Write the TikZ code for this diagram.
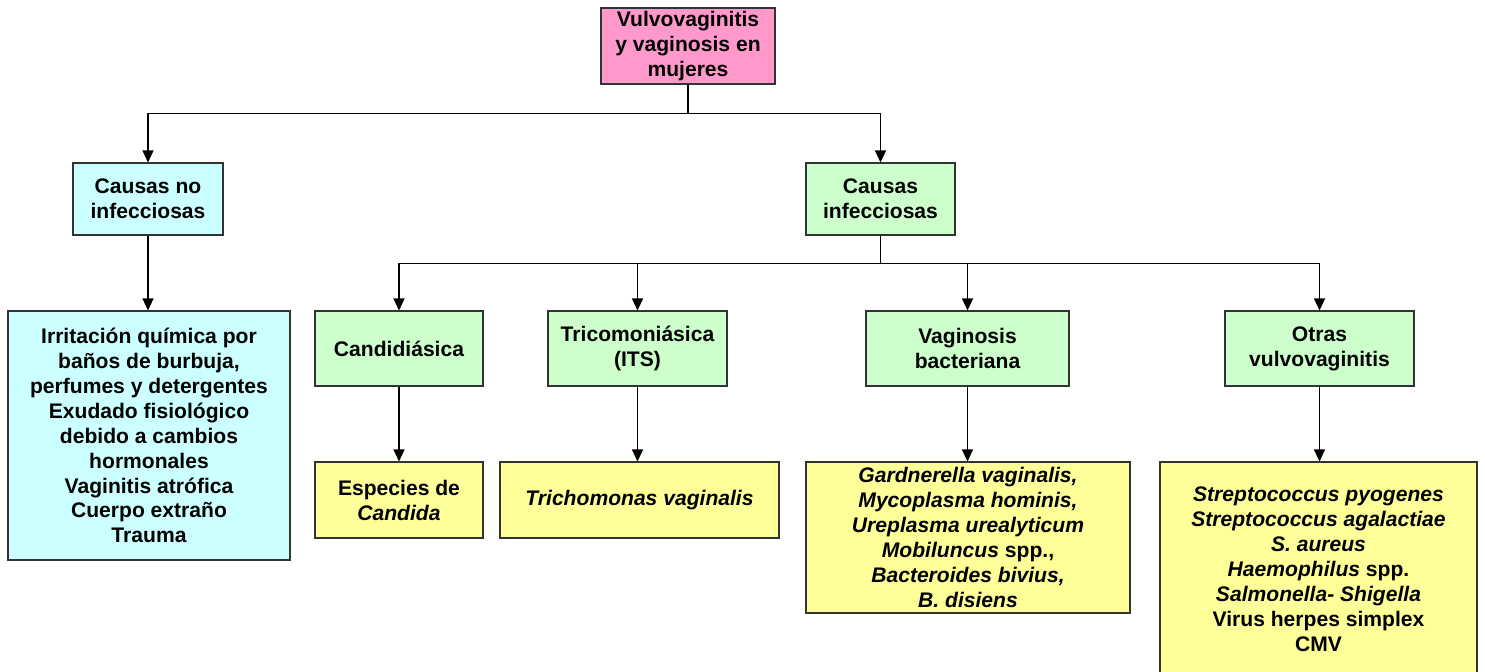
\documentclass[tikz,border=0pt]{standalone}
\usepackage{fontspec}
\setmainfont{Liberation Sans}
\usetikzlibrary{arrows.meta,positioning}
\definecolor{rosa}{HTML}{FF99CC}
\definecolor{celeste}{HTML}{CCFFFF}
\definecolor{verde}{HTML}{CCFFCC}
\definecolor{amarillo}{HTML}{FFFF99}
\begin{document}
\begin{tikzpicture}[>={Triangle[length=.24cm,width=.22cm]},line width=.6pt,
 b/.style={draw=black!80,align=center,inner sep=1pt,font=\fontsize{12}{14.2}\selectfont\bfseries},
 v/.style={b,fill=verde,minimum height=1.5cm},
 a/.style={b,fill=amarillo}]
\useasboundingbox (0,0) rectangle (29.7,-13.42);
\node[b,fill=rosa,minimum width=3.48cm,minimum height=1.52cm] (w) at (13.76,-.92) {Vulvovaginitis\\y vaginosis en\\mujeres};
\node[b,fill=celeste,minimum width=3cm,minimum height=1.44cm] (ni) at (2.96,-3.98) {Causas no\\infecciosas};
\node[v,minimum width=2.98cm,minimum height=1.44cm] (in) at (17.61,-3.98) {Causas\\infecciosas};
\draw[->] (w.south)--++(0,-.58)-|(ni.north);\draw[->] (w.south)--++(0,-.58)-|(in.north);
\node[b,fill=celeste,minimum width=5.64cm,minimum height=4.98cm] (nl) at (2.98,-8.71) {Irritación química por\\baños de burbuja,\\perfumes y detergentes\\Exudado fisiológico\\debido a cambios\\hormonales\\Vaginitis atrófica\\Cuerpo extraño\\Trauma};
\draw[->] (ni)--(ni|-nl.north);
\node[v,minimum width=3.36cm] (ca) at (7.98,-6.97) {Candidiásica};
\node[v,minimum width=3.58cm] (tr) at (12.75,-6.97) {Tricomoniásica\\(ITS)};
\node[v,minimum width=4.06cm] (vb) at (19.35,-6.97) {Vaginosis\\bacteriana};
\node[v,minimum width=3.78cm] (ot) at (26.39,-6.97) {Otras\\vulvovaginitis};
\foreach \n in {ca,tr,vb,ot} \draw[->] (in.south)--++(0,-.56)-|(\n.north);
\node[a,minimum width=3.36cm,minimum height=1.52cm] (ec) at (7.98,-10) {Especies de\\\textit{Candida}};
\node[a,minimum width=5.58cm,minimum height=1.52cm] (tv) at (12.79,-10) {\textit{Trichomonas vaginalis}};
\node[a,minimum width=6.48cm,minimum height=3.02cm] (gv) at (19.36,-10.75) {\textit{Gardnerella vaginalis,}\\\textit{Mycoplasma hominis,}\\\textit{Ureplasma urealyticum}\\\textit{Mobiluncus} spp.,\\\textit{Bacteroides bivius,}\\\textit{B. disiens}};
\node[a,minimum width=6.34cm,minimum height=4.3cm] (sp) at (26.37,-11.39) {\textit{Streptococcus pyogenes}\\\textit{Streptococcus agalactiae}\\\textit{S. aureus}\\\textit{Haemophilus} spp.\\\textit{Salmonella- Shigella}\\Virus herpes simplex\\CMV};
\draw[->] (ca)--(ec);\draw[->] (tr)--(tr|-tv.north);\draw[->] (vb)--(vb|-gv.north);\draw[->] (ot)--(ot|-sp.north);
\end{tikzpicture}
\end{document}
